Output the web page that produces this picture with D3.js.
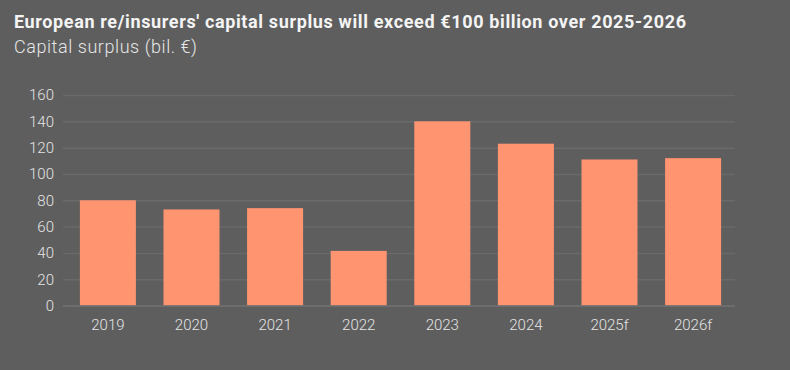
<!DOCTYPE html>
<html><head><meta charset="utf-8">
<script src="https://cdn.jsdelivr.net/npm/d3@7"></script>
<style>
html,body{margin:0;padding:0;background:#5e5e5e;}
svg{display:block;}
</style></head>
<body><svg id="c" width="790" height="370"></svg>
<script>
const categories = ["2019","2020","2021","2022","2023","2024","2025f","2026f"];
const values = [80, 73, 74, 41.5, 140, 123, 111, 112];
const yTicks = [0,20,40,60,80,100,120,140,160];
const title = "European re/insurers' capital surplus will exceed €100 billion over 2025-2026";
const subtitle = "Capital surplus (bil. €)";

const svg = d3.select("#c");
svg.append("rect").attr("width",790).attr("height",370).attr("fill","#5e5e5e");

const x = d3.scaleBand().domain(categories).range([64,737]).paddingInner(0.33).paddingOuter(0.19);
const y = d3.scaleLinear().domain([0,160]).range([305.5,95]);

function fit(sel, target, size){
  const w = sel.node().getComputedTextLength();
  sel.attr("font-size", size*target/w);
}
const t = svg.append("text").attr("x",14).attr("y",28).text(title)
  .attr("fill","#f4f4f4").attr("font-family","Roboto, sans-serif")
  .attr("font-weight","bold").attr("font-size",18).attr("letter-spacing",0);
// widen via letter spacing to match reference width
{
  const w = t.node().getComputedTextLength();
  const n = title.length;
  t.attr("letter-spacing", (672 - w)/(n-1));
}
const s = svg.append("text").attr("x",14).attr("y",53).text(subtitle)
  .attr("fill","#e6e6e6").attr("font-family","Roboto, sans-serif")
  .attr("font-weight",300).attr("font-size",18);
{
  const w = s.node().getComputedTextLength();
  s.attr("letter-spacing", (183 - w)/(subtitle.length-1));
}

// gridlines
const grid = svg.append("g").attr("transform","translate(735,0)")
  .call(d3.axisLeft(y).tickValues(yTicks.filter(d=>d>0)).tickSize(735-63).tickFormat(""));
grid.select(".domain").remove();
grid.selectAll(".tick line").attr("stroke","#6a6a6a").attr("stroke-width",1.5);

// y labels
const ya = svg.append("g").attr("transform","translate(54,0)")
  .call(d3.axisLeft(y).tickValues(yTicks).tickSize(0).tickPadding(0));
ya.select(".domain").remove();
ya.selectAll("text").attr("fill","#e4e4e4").attr("font-family","Roboto, sans-serif").attr("font-weight",300).attr("font-size",15);

// bars
svg.append("g").selectAll("rect").data(categories).join("rect")
  .attr("x",d=>x(d)).attr("width",x.bandwidth())
  .attr("y",(d,i)=>y(values[i])).attr("height",(d,i)=>y(0)-y(values[i]))
  .attr("fill","#ff9470");

// baseline
svg.append("line").attr("x1",63).attr("x2",735).attr("y1",y(0)+0.5).attr("y2",y(0)+0.5)
  .attr("stroke","#737373").attr("stroke-width",1.5);

// x axis labels
const xa = svg.append("g").attr("transform",`translate(0,${y(0)})`)
  .call(d3.axisBottom(x).tickSize(0).tickPadding(14));
xa.select(".domain").remove();
xa.selectAll("text").attr("fill","#e4e4e4").attr("font-family","Roboto, sans-serif").attr("font-weight",300).attr("font-size",15);
</script></body></html>
